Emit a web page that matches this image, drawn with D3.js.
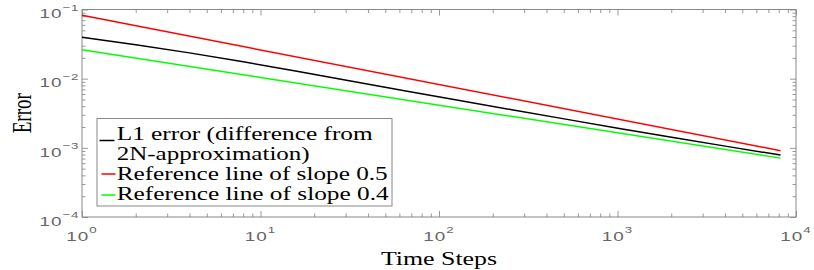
<!DOCTYPE html>
<html>
<head>
<meta charset="utf-8">
<script src="https://cdn.jsdelivr.net/npm/d3@7"></script>
<style>
  html, body { margin: 0; padding: 0; background: #fff; }
  svg { display: block; }
</style>
</head>
<body>
<div id="chart"></div>
<script>
// data (time steps are powers of two)
var timeSteps = [1, 2, 4, 8, 16, 32, 64, 128, 256, 512, 1024, 2048, 4096, 8192];
var l1Error = [0.0396, 0.0310, 0.0236, 0.0175, 0.0128, 0.00927, 0.00671,
               0.00486, 0.00355, 0.00260, 0.00191, 0.00141, 0.00105, 0.000785];

// reference lines are straight in log-log, so two ends are enough
var refSteps = [1, 8192];
var refSlope05 = [0.0824, 0.00091];
var refSlope04 = [0.0262, 0.00071];

var xMajor = [1, 10, 100, 1000, 10000];
var yMajor = [1e-4, 1e-3, 1e-2, 1e-1];
var xExponents = ["0", "1", "2", "3", "4"];
var yExponents = ["\u22124", "\u22123", "\u22122", "\u22121"];

var legendLabels = [
    ["L1 error (difference from", "2N-approximation)"],
    ["Reference line of slope 0.5"],
    ["Reference line of slope 0.4"]
];
var seriesColors = ["#000000", "#ff0000", "#00ff00"];

(function() {
    'use strict';

    var width = 814, height = 270;
    var left = 82, right = 796, top = 9.5, bottom = 217;
    var stretch = 1.4; // the figure is drawn horizontally stretched
    var axisGray = "#888";

    var svg = d3.select("#chart").append("svg")
        .attr("width", width)
        .attr("height", height);

    var x = d3.scaleLog().domain([1, 1e4]).range([left, right]);
    var y = d3.scaleLog().domain([1e-4, 1e-1]).range([bottom, top]);

    function minorTicks(majors) {
        var out = [];
        for (var i = 0; i < majors.length - 1; i++) {
            for (var k = 2; k <= 9; k++) out.push(majors[i] * k);
        }
        return out;
    }
    var xMinor = minorTicks(xMajor);
    var yMinor = minorTicks(yMajor);

    // tick marks on all four sides, pointing inward
    function drawTicks(axisFn, scale, values, size, translate) {
        var g = svg.append("g")
            .attr("transform", translate)
            .call(axisFn(scale).tickValues(values).tickSizeInner(-size)
                .tickSizeOuter(0).tickFormat(""));
        g.select(".domain").remove();
        g.selectAll(".tick line").attr("stroke", "#999");
        return g;
    }
    drawTicks(d3.axisBottom, x, xMinor, 3.5, "translate(0," + bottom + ")");
    drawTicks(d3.axisBottom, x, xMajor, 6, "translate(0," + bottom + ")");
    drawTicks(d3.axisTop, x, xMinor, 3.5, "translate(0," + top + ")");
    drawTicks(d3.axisTop, x, xMajor, 6, "translate(0," + top + ")");
    drawTicks(d3.axisLeft, y, yMinor, 3.5, "translate(" + left + ",0)");
    drawTicks(d3.axisLeft, y, yMajor, 6, "translate(" + left + ",0)");
    drawTicks(d3.axisRight, y, yMinor, 3.5, "translate(" + right + ",0)");
    drawTicks(d3.axisRight, y, yMajor, 6, "translate(" + right + ",0)");

    // frame
    svg.append("rect")
        .attr("x", left).attr("y", top)
        .attr("width", right - left).attr("height", bottom - top)
        .attr("fill", "none")
        .attr("stroke", axisGray)
        .attr("stroke-width", 1);

    // tick labels, 10 with a superscript exponent
    function powerLabel(sel, exps) {
        sel.append("tspan").text("10");
        sel.append("tspan")
            .attr("dy", -7.5)
            .style("font-size", "9.5px")
            .text(function(d, i) { return exps[i]; });
    }

    svg.append("g").selectAll("text")
        .data(xMajor)
        .join("text")
        .attr("transform", function(d) {
            return "translate(" + x(d) + "," + (bottom + 23.7) + ") scale(" + stretch + ",1)";
        })
        .attr("text-anchor", "middle")
        .style("font-family", "'Liberation Sans', Arial, sans-serif")
        .style("font-size", "13.5px")
        .style("letter-spacing", "0.7px")
        .style("fill", "#666")
        .call(powerLabel, xExponents);

    svg.append("g").selectAll("text")
        .data(yMajor)
        .join("text")
        .attr("transform", function(d) {
            return "translate(" + (left - 2.5) + "," + (y(d) + 8.7) + ") scale(" + stretch + ",1)";
        })
        .attr("text-anchor", "end")
        .style("font-family", "'Liberation Sans', Arial, sans-serif")
        .style("font-size", "13.5px")
        .style("letter-spacing", "0.7px")
        .style("fill", "#666")
        .call(powerLabel, yExponents);

    // axis titles
    svg.append("text")
        .attr("x", (left + right) / 2)
        .attr("y", 264.5)
        .attr("text-anchor", "middle")
        .attr("textLength", 116)
        .attr("lengthAdjust", "spacingAndGlyphs")
        .style("font-family", "'Liberation Serif', 'Times New Roman', serif")
        .style("font-size", "19px")
        .style("fill", "#000")
        .text("Time Steps");

    svg.append("text")
        .attr("transform", "translate(30.5," + (top + bottom) / 2 + ") scale(" + stretch + ",1) rotate(-90)")
        .attr("text-anchor", "middle")
        .style("font-family", "'Liberation Serif', 'Times New Roman', serif")
        .style("font-size", "19px")
        .style("fill", "#000")
        .text("Error");

    // data lines
    var line = d3.line()
        .x(function(d) { return x(d[0]); })
        .y(function(d) { return y(d[1]); });

    var series = [
        d3.zip(timeSteps, l1Error),
        d3.zip(refSteps, refSlope05),
        d3.zip(refSteps, refSlope04)
    ];
    // draw green, black, red so red sits on top like the original
    [2, 0, 1].forEach(function(i) {
        svg.append("path")
            .datum(series[i])
            .attr("d", line)
            .attr("fill", "none")
            .attr("stroke", seriesColors[i])
            .attr("stroke-width", 1.5);
    });

    // legend
    var legend = svg.append("g").attr("class", "legend");
    legend.append("rect")
        .attr("x", 97).attr("y", 118.5)
        .attr("width", 295).attr("height", 87.5)
        .attr("fill", "#fff")
        .attr("stroke", axisGray)
        .attr("stroke-width", 1);

    var rowBaselines = [140, 160, 180, 200];
    var textWidths = [256, 193, 271, 272];
    var sampleY = [140.5, 174, 195];
    var sampleX = [[99.5, 114.5], [101.5, 115.5], [101.5, 115.5]];

    var row = 0;
    legendLabels.forEach(function(lines, i) {
        legend.append("line")
            .attr("x1", sampleX[i][0]).attr("x2", sampleX[i][1])
            .attr("y1", sampleY[i]).attr("y2", sampleY[i])
            .attr("stroke", seriesColors[i])
            .attr("stroke-width", 1.5);
        lines.forEach(function(t) {
            legend.append("text")
                .attr("x", 116.7)
                .attr("y", rowBaselines[row])
                .attr("textLength", textWidths[row])
                .attr("lengthAdjust", "spacingAndGlyphs")
                .style("font-family", "'Liberation Serif', 'Times New Roman', serif")
                .style("font-size", "19px")
                .style("fill", "#000")
                .text(t);
            row++;
        });
    });
})();
</script>
</body>
</html>
